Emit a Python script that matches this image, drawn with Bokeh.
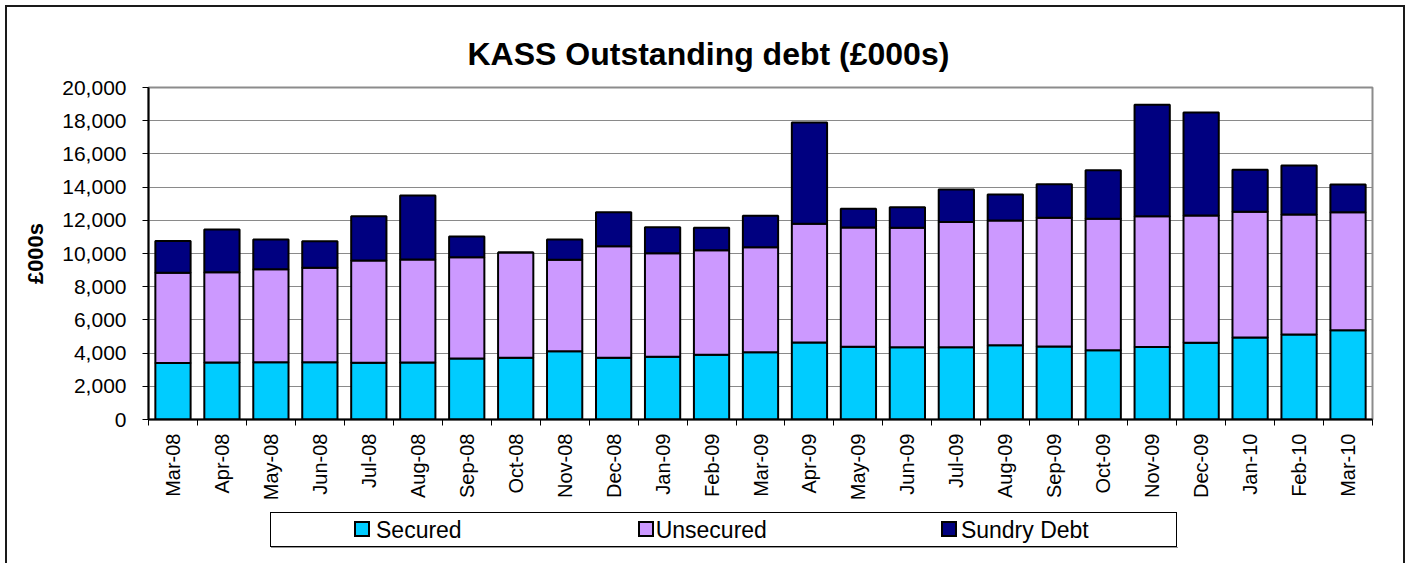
from math import pi
from bokeh.plotting import figure
from bokeh.layouts import column
from bokeh.models import (Range1d, FixedTicker, NumeralTickFormatter, Legend, LegendItem,
                          ColumnDataSource, Spacer)
from bokeh.embed import file_html
from bokeh.resources import INLINE

months = ["Mar-08", "Apr-08", "May-08", "Jun-08", "Jul-08", "Aug-08", "Sep-08", "Oct-08",
          "Nov-08", "Dec-08", "Jan-09", "Feb-09", "Mar-09", "Apr-09", "May-09", "Jun-09",
          "Jul-09", "Aug-09", "Sep-09", "Oct-09", "Nov-09", "Dec-09", "Jan-10", "Feb-10", "Mar-10"]
secured = [3400, 3430, 3450, 3450, 3415, 3430, 3675, 3715, 4115, 3715, 3775, 3895, 4055,
           4640, 4380, 4355, 4355, 4480, 4400, 4175, 4375, 4620, 4940, 5120, 5380]
unsecured = [5440, 5445, 5600, 5690, 6165, 6210, 6100, 6345, 5505, 6725, 6245, 6305, 6325,
             7150, 7185, 7190, 7550, 7510, 7750, 7915, 7875, 7670, 7570, 7230, 7110]
sundry = [1910, 2570, 1790, 1600, 2670, 3850, 1245, 0, 1220, 2050, 1565, 1345, 1890,
          6100, 1125, 1245, 1950, 1565, 2025, 2930, 6710, 6205, 2530, 2950, 1665]
series = ["Secured", "Unsecured", "Sundry Debt"]
colors = ["#00CCFF", "#CC99FF", "#000080"]
y_ticks = list(range(0, 20001, 2000))

idx = list(range(len(months)))
source = ColumnDataSource(dict(x=idx, Secured=secured, Unsecured=unsecured, **{"Sundry Debt": sundry}))

FONT = "Liberation Sans"
W = 1412
p = figure(width=W, height=511, output_backend="svg", toolbar_location=None,
           x_range=Range1d(-0.5, len(months) - 0.5), y_range=Range1d(0, 20000),
           min_border_left=148, min_border_right=40, min_border_top=87, min_border_bottom=92,
           title="KASS Outstanding debt (£000s)")
p.border_fill_color = None
p.background_fill_color = "white"
p.title.text_font = FONT
p.title.text_font_size = "32px"
p.title.text_font_style = "bold"
p.title.text_color = "black"
p.title.align = "left"
p.title.offset = 319
p.title.standoff = 31

p.vbar_stack(series, x="x", width=0.72, source=source, fill_color=colors,
             line_color="black", line_width=2)

p.outline_line_color = "#8c8c8c"
p.outline_line_width = 2
p.xgrid.grid_line_color = None
p.ygrid.grid_line_color = "#8a8a8a"
p.ygrid.grid_line_width = 1
p.ygrid.ticker = FixedTicker(ticks=y_ticks)

ya = p.yaxis[0]
ya.ticker = FixedTicker(ticks=y_ticks)
ya.formatter = NumeralTickFormatter(format="0,0")
ya.axis_label = "£000s"
ya.axis_label_text_font = FONT
ya.axis_label_text_font_size = "22px"
ya.axis_label_text_font_style = "bold"
ya.axis_label_text_color = "black"
ya.axis_label_standoff = 11
ya.major_label_text_font = FONT
ya.major_label_text_font_size = "21px"
ya.major_label_text_color = "black"
ya.major_label_standoff = 16
ya.major_tick_out = 6
ya.major_tick_in = 0
ya.minor_tick_line_color = None
ya.axis_line_color = "black"
ya.axis_line_width = 2
ya.major_tick_line_color = "black"

xa = p.xaxis[0]
xa.ticker = FixedTicker(ticks=idx, minor_ticks=[i - 0.5 for i in range(len(months) + 1)])
xa.major_label_overrides = {i: m for i, m in zip(idx, months)}
xa.major_label_orientation = pi / 2
xa.major_label_text_font = FONT
xa.major_label_text_font_size = "20px"
xa.major_label_text_color = "black"
xa.major_label_standoff = 8
xa.major_tick_line_color = None
xa.major_tick_out = 6
xa.minor_tick_line_color = "black"
xa.minor_tick_out = 6
xa.minor_tick_in = 0
xa.axis_line_color = "black"
xa.axis_line_width = 2

# legend strip: a small figure whose frame holds the legend (frame aligned with the chart's)
lg = figure(width=W, height=37, output_backend="svg", toolbar_location=None,
            x_range=Range1d(0, 1), y_range=Range1d(0, 1),
            x_axis_location=None, y_axis_location=None,
            min_border_left=0, min_border_right=0, min_border_top=0, min_border_bottom=0)
lg.xgrid.grid_line_color = None
lg.ygrid.grid_line_color = None
lg.outline_line_color = None
lg.border_fill_color = None
lg.background_fill_color = None
items = []
for s, c in zip(series, colors):
    r = lg.vbar(x=[], top=[], width=0.5, fill_color=c, line_color="black", line_width=2)
    items.append(LegendItem(label=s, renderers=[r]))
legend = Legend(items=items, orientation="horizontal", location=(206, 4), padding=5,
                spacing=172, label_standoff=6, glyph_width=16, glyph_height=15,
                label_text_font=FONT, label_text_font_size="23px", label_text_color="black",
                border_line_color=None, background_fill_color=None, margin=0)
lg.add_layout(legend, "center")

layout = column(p, lg, Spacer(width=W, height=15), spacing=0)

# outer chart border, legend box and legend swatches, drawn as CSS background layers
swatch_x = [354, 638, 941]
lines = []
for c, sx in zip(colors, swatch_x):
    lines.append((c, f"{sx + 2}px 523px", "12px 12px"))
for sx in swatch_x:
    lines.append(("#000000", f"{sx}px 521px", "16px 16px"))
lines += [
    ("#1a1a1a", "5px 5px", "2px 558px"),
    ("#1a1a1a", "5px 5px", "1400px 2px"),
    ("#1a1a1a", "1403px 5px", "2px 558px"),
    ("#000000", "270px 512px", "1px 35px"),
    ("#000000", "270px 512px", "907px 1px"),
    ("#000000", "1176px 512px", "1px 35px"),
    ("#000000", "270px 546px", "907px 1px"),
    ("#999999", "271px 547px", "907px 1px"),
]
layout.styles = {
    "background-image": ", ".join(f"linear-gradient({c}, {c})" for c, _, _ in lines),
    "background-position": ", ".join(pos for _, pos, _ in lines),
    "background-size": ", ".join(sz for _, _, sz in lines),
    "background-repeat": "no-repeat",
    "background-color": "white",
}

open("out.html", "w").write(file_html(layout, INLINE))
